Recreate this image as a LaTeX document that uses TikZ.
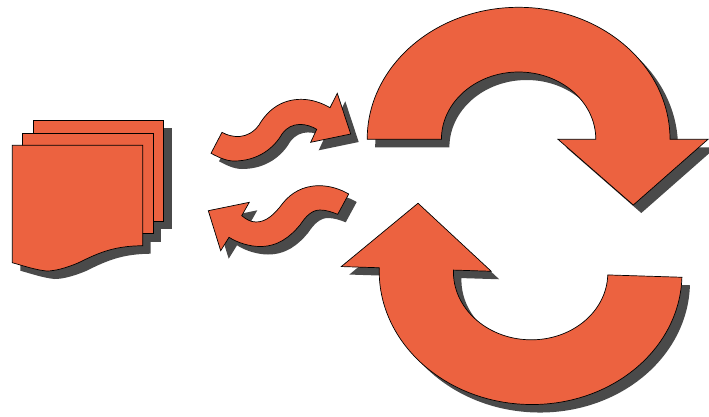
\documentclass[tikz,border=0pt]{standalone}
\usepackage{xcolor}
\definecolor{facered}{HTML}{EC6240}
\definecolor{dropgray}{HTML}{4A4A4A}
\tikzset{
  face/.style = {fill=facered,draw=black,line width=0.7pt,line join=miter},
  drop/.style = {fill=dropgray,shift={(8,8)}}
}
% half ring arrow, centre of the arcs at the origin
\newcommand{\ringarrow}{(-151.4,0) arc[start angle=180,end angle=360,x radius=151.4,y radius=132]
  -- (189.4,0) -- (114.7,65.7) -- (39.4,0) -- (77.2,0)
  arc[start angle=360,end angle=180,x radius=77.2,y radius=67.3] -- cycle}
\newcommand{\frontpage}{(12.3,145.3) -- (142.7,145.3) -- (142.7,245.7)
  .. controls (115,246) and (100,252) .. (78,263) .. controls (66,268) and (55,271) .. (46.7,271)
  .. controls (36,270) and (24,266) .. (12.3,262.7) -- cycle}
\newcommand{\swingright}{(222,132.3) .. controls (232,138) and (248,140) .. (259,125)
  .. controls (269,108) and (283,99.5) .. (301,99.3) .. controls (312,99.3) and (322,103) .. (330,107.7)
  -- (337.3,93.3) -- (350.7,134) -- (310.7,142.3) -- (316.7,129.3)
  .. controls (308,124) and (292,120) .. (282,134) .. controls (274,148) and (258,161) .. (234,161)
  .. controls (226,161) and (218,157) .. (211,153.3) -- cycle}
\newcommand{\swingleft}{(348.7,194) .. controls (340,189) and (330,185.7) .. (319,185.7)
  .. controls (303,185.7) and (291,193) .. (283,203) .. controls (274,215) and (266,222) .. (256,222)
  .. controls (250,222) and (246,219) .. (241.7,215.7)
  -- (249.3,202.3) -- (208.3,210.7) -- (220.7,250.7) -- (229,237.3)
  .. controls (238,243) and (250,246.5) .. (260,246.5) .. controls (278,246.5) and (290,237) .. (300,225)
  .. controls (306,216) and (312,210) .. (320,210) .. controls (326,210) and (332,212) .. (337.7,214.3) -- cycle}

\begin{document}
\begin{tikzpicture}[x=1pt,y=-1pt]
  \useasboundingbox (0,0) rectangle (709,416);
  % stack of pages
  \fill[drop] (33.3,120.3) rectangle (163.7,221);
  \fill[drop] (22.7,133) rectangle (153.3,233.7);
  \fill[drop] \frontpage;
  \draw[face] (33.3,120.3) rectangle (163.7,221);
  \draw[face] (22.7,133) rectangle (153.3,233.7);
  \draw[face] \frontpage;
  % small arrows
  \fill[drop] \swingright;
  \draw[face] \swingright;
  \fill[drop] \swingleft;
  \draw[face] \swingleft;
  % big arrows
  \fill[drop,shift={(518.6,139.3)}] \ringarrow;
  \draw[face,shift={(518.6,139.3)}] \ringarrow;
  \fill[drop,shift={(530.6,272.5)},rotate=178.2] \ringarrow;
  \draw[face,shift={(530.6,272.5)},rotate=178.2] \ringarrow;
\end{tikzpicture}
\end{document}
